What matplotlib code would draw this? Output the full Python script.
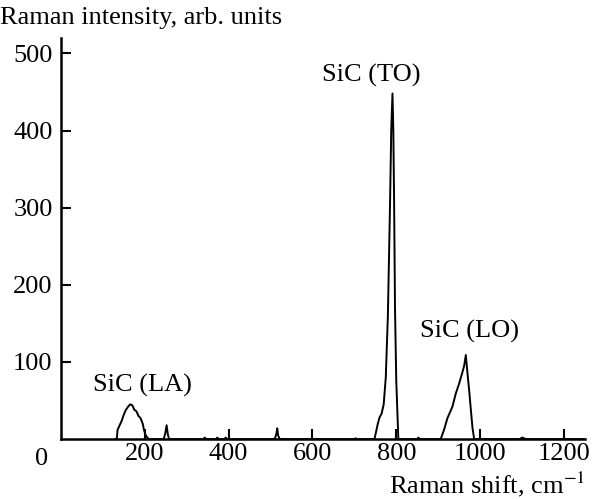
import matplotlib
matplotlib.use("Agg")
import matplotlib.pyplot as plt

plt.rcParams['font.family'] = ['Liberation Serif', 'DejaVu Serif']
plt.rcParams['mathtext.fontset'] = 'stix'

# spectrum
shift = [130, 133, 135, 140, 145, 150, 155, 160, 165, 170, 175, 180, 185, 190, 195, 198,
         202, 206, 210, 245, 249, 252, 255, 258, 340, 343, 346, 370, 373, 376, 390, 393,
         396, 510, 514, 516, 518, 522, 700, 703, 706, 748, 752, 756, 760, 765, 770, 775,
         780, 785, 788, 791, 793, 795, 797, 800, 803, 805, 850, 853, 856, 906, 914, 922,
         934, 942, 950, 958, 962, 966, 970, 974, 978, 982, 986, 1095, 1100, 1105, 1110, 1250]
intensity = [0, 0, 12, 18, 24, 32, 38, 42, 45, 44, 38, 36, 30, 27, 20, 12,
             5, 2, 0, 0, 8, 18, 6, 0, 0, 2, 0, 0, 2, 0, 0, 2,
             0, 0, 7, 14, 5, 0, 0, 1, 0, 0, 10, 20, 28, 33, 45, 80,
             160, 300, 400, 448, 400, 300, 170, 76, 30, 0, 0, 2, 0, 0, 12, 27,
             42, 59, 72, 87, 95, 109, 85, 63, 38, 14, 0, 0, 2, 1, 0, 0]

xticks = [200, 400, 600, 800, 1000, 1200]
yticks = [100, 200, 300, 400, 500]

peaks = ['SiC (LA)', 'SiC (TO)', 'SiC (LO)']
peak_x = [195, 740, 974]
peak_y = [70, 471, 139]

fs = 19

fig = plt.figure(figsize=(5.98, 4.99), dpi=100)
ax = fig.add_axes([0.102, 0.12, 0.876, 0.804])
ax.plot(shift, intensity, color='black', lw=1.4)

ax.set_xlim(0, 1250)
ax.set_ylim(0, 520)
ax.set_xticks(xticks)
ax.set_yticks(yticks)
ax.tick_params(direction='in', length=7, width=1.5, labelsize=fs)
ax.tick_params(axis='y', pad=6)
ax.tick_params(axis='x', pad=3)
for s in ['top', 'right']:
    ax.spines[s].set_visible(False)
for s in ['left', 'bottom']:
    ax.spines[s].set_linewidth(1.8)

fig.text(42 / 598, 1 - 459 / 499, '0', fontsize=fs, ha='center', va='center')

for name, px, py in zip(peaks, peak_x, peak_y):
    ax.text(px, py, name, fontsize=fs, ha='center', va='center')

fig.text(0.0, 1 - 18 / 499, 'Raman intensity, arb. units', fontsize=fs, ha='left', va='center')
fig.text(585 / 598, 1 - 484 / 499, 'Raman shift, cm$^{-1}$', fontsize=fs, ha='right', va='center')

fig.savefig('out.png', dpi=100)
